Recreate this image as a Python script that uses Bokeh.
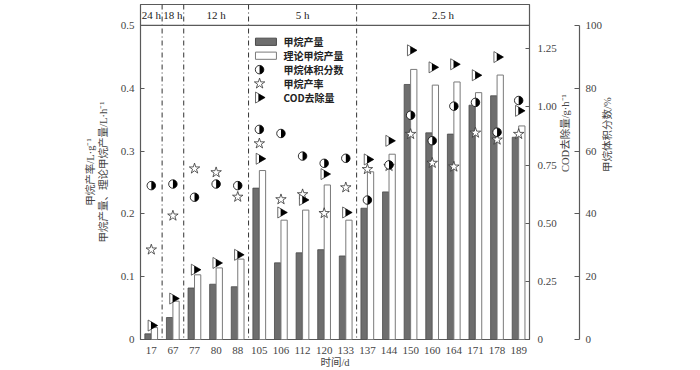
import math
import numpy as np
from bokeh.plotting import figure
from bokeh.models import (Range1d, LinearAxis, FixedTicker, CustomJSTickFormatter,
                          Span, ColumnDataSource)
from bokeh.core.properties import value
from bokeh.transform import dodge
from bokeh.embed import file_html
from bokeh.resources import INLINE

# ---------------- data ----------------
days = [17, 67, 77, 80, 88, 105, 106, 112, 120, 133, 137, 144, 150, 160, 164, 171, 178, 189]
periods = ["24 h", "18 h", "12 h", "12 h", "12 h", "5 h", "5 h", "5 h", "5 h", "5 h",
           "2.5 h", "2.5 h", "2.5 h", "2.5 h", "2.5 h", "2.5 h", "2.5 h", "2.5 h"]
methane_prod = [0.009, 0.035, 0.082, 0.088, 0.084, 0.241, 0.122, 0.138, 0.143, 0.133,
                0.209, 0.235, 0.406, 0.329, 0.327, 0.373, 0.388, 0.322]
theoretical_prod = [0.019, 0.061, 0.103, 0.114, 0.128, 0.269, 0.190, 0.206, 0.246, 0.190,
                    0.267, 0.295, 0.430, 0.405, 0.410, 0.393, 0.421, 0.340]
methane_yield = [0.143, 0.197, 0.272, 0.266, 0.227, 0.312, 0.223, 0.231, 0.201, 0.242,
                 0.271, 0.276, 0.327, 0.281, 0.275, 0.329, 0.318, 0.327]
ch4_fraction = [49.0, 49.5, 45.3, 49.5, 49.0, 66.9, 65.6, 58.4, 56.1, 57.7,
                44.4, 55.6, 71.4, 63.3, 74.3, 75.5, 66.0, 76.1]
cod_removal = [0.060, 0.176, 0.300, 0.329, 0.364, 0.777, 0.546, 0.600, 0.711, 0.546,
               0.774, 0.854, 1.243, 1.170, 1.183, 1.136, 1.214, 0.983]

left_ticks = [0, 0.1, 0.2, 0.3, 0.4, 0.5]
cod_ticks = [0, 0.25, 0.5, 0.75, 1.0, 1.25]
pct_ticks = [0, 20, 40, 60, 80, 100]

legend_labels = ["甲烷产量", "理论甲烷产量", "甲烷体积分数", "甲烷产率", "COD去除量"]

# ---------------- layout constants ----------------
HEADER_FRAC = 0.0625
LEFT_END = left_ticks[-1] / (1 - HEADER_FRAC)
COD_PER_LEFT = 2.7
PCT_PER_LEFT = pct_ticks[-1] / left_ticks[-1]
SERIF = "Liberation Serif, Noto Sans CJK SC"
CJK = "Noto Sans CJK SC"
FRAME = "#5a5a5a"

n = len(days)
idx = list(range(n))

src = ColumnDataSource(dict(i=idx, prod=methane_prod, theo=theoretical_prod,
                            yld=methane_yield, pct=ch4_fraction, cod=cod_removal))

p = figure(width=684, height=370, output_backend="svg", toolbar_location=None,
           x_range=Range1d(-0.5, n - 0.5), y_range=Range1d(0, LEFT_END),
           min_border_left=140, min_border_right=155, min_border_top=4,
           min_border_bottom=0)
p.extra_y_ranges = {"cod": Range1d(0, LEFT_END * COD_PER_LEFT),
                    "pct": Range1d(0, LEFT_END * PCT_PER_LEFT)}
p.grid.visible = False
p.outline_line_color = FRAME
p.outline_line_width = 1.2

# ---------------- separators & header ----------------
for k in range(n - 1):
    if periods[k] != periods[k + 1]:
        p.add_layout(Span(location=k + 0.5, dimension="height", line_color="#333333",
                          line_width=1, line_dash="5 3 1 3"))
p.add_layout(Span(location=left_ticks[-1], dimension="width", line_color=FRAME,
                  line_width=1.2))

groups, centers = [], []
start = 0
for k in range(1, n + 1):
    if k == n or periods[k] != periods[start]:
        groups.append(periods[start])
        centers.append((start + k - 1) / 2)
        start = k
header_y = (left_ticks[-1] + LEFT_END) / 2
p.text(x=centers, y=[header_y] * len(centers), text=groups, text_align="center",
       text_baseline="middle", text_font=value("Liberation Serif"),
       text_font_size="11px", text_color="#222222")

# ---------------- bars ----------------
BAR_W = 0.29
p.vbar(x=dodge("i", -0.155), top="prod", width=BAR_W, source=src,
       fill_color="#6e6e6e", line_color="#4a4a4a", line_width=0.8)
p.vbar(x=dodge("i", 0.145), top="theo", width=BAR_W, source=src,
       fill_color="white", line_color="#7a7a7a", line_width=1)

# ---------------- markers ----------------
p.scatter(x="i", y="yld", source=src, marker="star", size=11,
          fill_color="white", line_color="#333333", line_width=0.8)
p.scatter(x="i", y="pct", source=src, y_range_name="pct", marker="circle", size=8.5,
          fill_color="white", line_color="black", line_width=0.8)
p.wedge(x="i", y="pct", source=src, y_range_name="pct", radius=4.25,
        radius_units="screen", start_angle=-math.pi / 2, end_angle=math.pi / 2,
        fill_color="black", line_color=None)
p.scatter(x="i", y="cod", source=src, y_range_name="cod", marker="triangle",
          angle=-math.pi / 2, size=11, fill_color="white", line_color="#444444",
          line_width=0.8)
p.scatter(x=dodge("i", 0.09), y="cod", source=src, y_range_name="cod",
          marker="triangle", angle=-math.pi / 2, size=8, fill_color="black",
          line_color=None)

# ---------------- legend (drawn manually) ----------------
LEG_TOP = 0.474
LEG_STEP = 0.0222
LEG_SW_L, LEG_SW_R = 4.82, 5.79
LEG_MK_X = 5.01
LEG_TX_X = 6.12
LEG_SW_H = 0.0115
rows = [LEG_TOP - k * LEG_STEP for k in range(len(legend_labels))]
p.quad(left=[LEG_SW_L] * 2, right=[LEG_SW_R] * 2,
       bottom=[r - LEG_SW_H / 2 for r in rows[:2]], top=[r + LEG_SW_H / 2 for r in rows[:2]],
       fill_color=["#6e6e6e", "white"], line_color=["#4a4a4a", "#7a7a7a"], line_width=1)
p.scatter(x=[LEG_MK_X], y=[rows[2]], marker="circle", size=8.5, fill_color="white",
          line_color="black", line_width=0.8)
p.wedge(x=[LEG_MK_X], y=[rows[2]], radius=4.25, radius_units="screen",
        start_angle=-math.pi / 2, end_angle=math.pi / 2, fill_color="black", line_color=None)
p.scatter(x=[LEG_MK_X], y=[rows[3]], marker="star", size=11, fill_color="white",
          line_color="#333333", line_width=0.8)
p.scatter(x=[LEG_MK_X - 0.04], y=[rows[4]], marker="triangle", angle=-math.pi / 2, size=11,
          fill_color="white", line_color="#444444", line_width=0.8)
p.scatter(x=[LEG_MK_X + 0.05], y=[rows[4]], marker="triangle", angle=-math.pi / 2, size=8,
          fill_color="black", line_color=None)
p.text(x=[LEG_TX_X] * len(rows), y=rows, text=legend_labels, text_align="left",
       text_baseline="middle", text_font=value(CJK), text_font_size="10px",
       text_font_style="bold", text_color="#222222")

# ---------------- axes ----------------
ly = p.yaxis[0]
ly.ticker = FixedTicker(ticks=left_ticks)
ly.formatter = CustomJSTickFormatter(code="return tick == 0 ? '0' : tick.toFixed(1);")
ly.major_tick_in = 4
ly.major_tick_out = 0
ly.minor_tick_line_color = None
ly.axis_line_color = FRAME
ly.major_tick_line_color = FRAME
ly.major_label_standoff = 6
ly.major_label_text_font = SERIF
ly.major_label_text_font_size = "11px"
ly.axis_label = "甲烷产率/L·g⁻¹\n甲烷产量、理论甲烷产量/L·h⁻¹"
ly.axis_label_text_font = SERIF
ly.axis_label_text_font_size = "10.5px"
ly.axis_label_text_font_style = "normal"
ly.axis_label_standoff = 9

bx = p.xaxis[0]
bx.ticker = FixedTicker(ticks=idx)
bx.major_label_overrides = {i: str(d) for i, d in zip(idx, days)}
bx.major_tick_line_color = None
bx.minor_tick_line_color = None
bx.axis_line_color = None
bx.major_label_standoff = 1
bx.major_label_text_font = SERIF
bx.major_label_text_font_size = "11px"
bx.axis_label = "时间/d"
bx.axis_label_text_font = SERIF
bx.axis_label_text_font_size = "10.5px"
bx.axis_label_text_font_style = "normal"
bx.axis_label_standoff = 0

cod_axis = LinearAxis(y_range_name="cod", ticker=FixedTicker(ticks=cod_ticks),
                      formatter=CustomJSTickFormatter(code="return tick == 0 ? '0' : tick.toFixed(2);"),
                      axis_label="COD去除量/g·h⁻¹", major_tick_in=4, major_tick_out=0,
                      minor_tick_line_color=None, axis_line_color=FRAME,
                      major_tick_line_color=FRAME, major_label_standoff=8,
                      major_label_text_font=SERIF, major_label_text_font_size="11px",
                      axis_label_text_font=SERIF, axis_label_text_font_size="10.5px",
                      axis_label_text_font_style="normal", axis_label_standoff=6)
spacer = LinearAxis(y_range_name="pct", ticker=FixedTicker(ticks=[]), major_tick_in=0,
                    major_tick_out=18, axis_line_color=None, major_tick_line_color=None,
                    minor_tick_line_color=None, major_label_text_color=None)
pct_axis = LinearAxis(y_range_name="pct", ticker=FixedTicker(ticks=pct_ticks),
                      bounds=(pct_ticks[0], pct_ticks[-1]), axis_label="甲烷体积分数/%",
                      major_tick_in=5, major_tick_out=0, minor_tick_line_color=None,
                      axis_line_color=FRAME, axis_line_width=1.2,
                      major_tick_line_color=FRAME, major_label_standoff=6,
                      major_label_text_font=SERIF, major_label_text_font_size="11px",
                      axis_label_text_font=SERIF, axis_label_text_font_size="10.5px",
                      axis_label_text_font_style="normal", axis_label_standoff=2)
if "axis_label_orientation" in LinearAxis.properties():
    cod_axis.axis_label_orientation = math.pi / 2
    pct_axis.axis_label_orientation = math.pi / 2
p.add_layout(cod_axis, "right")
p.add_layout(spacer, "right")
p.add_layout(pct_axis, "right")

open("out.html", "w").write(file_html(p, INLINE))
